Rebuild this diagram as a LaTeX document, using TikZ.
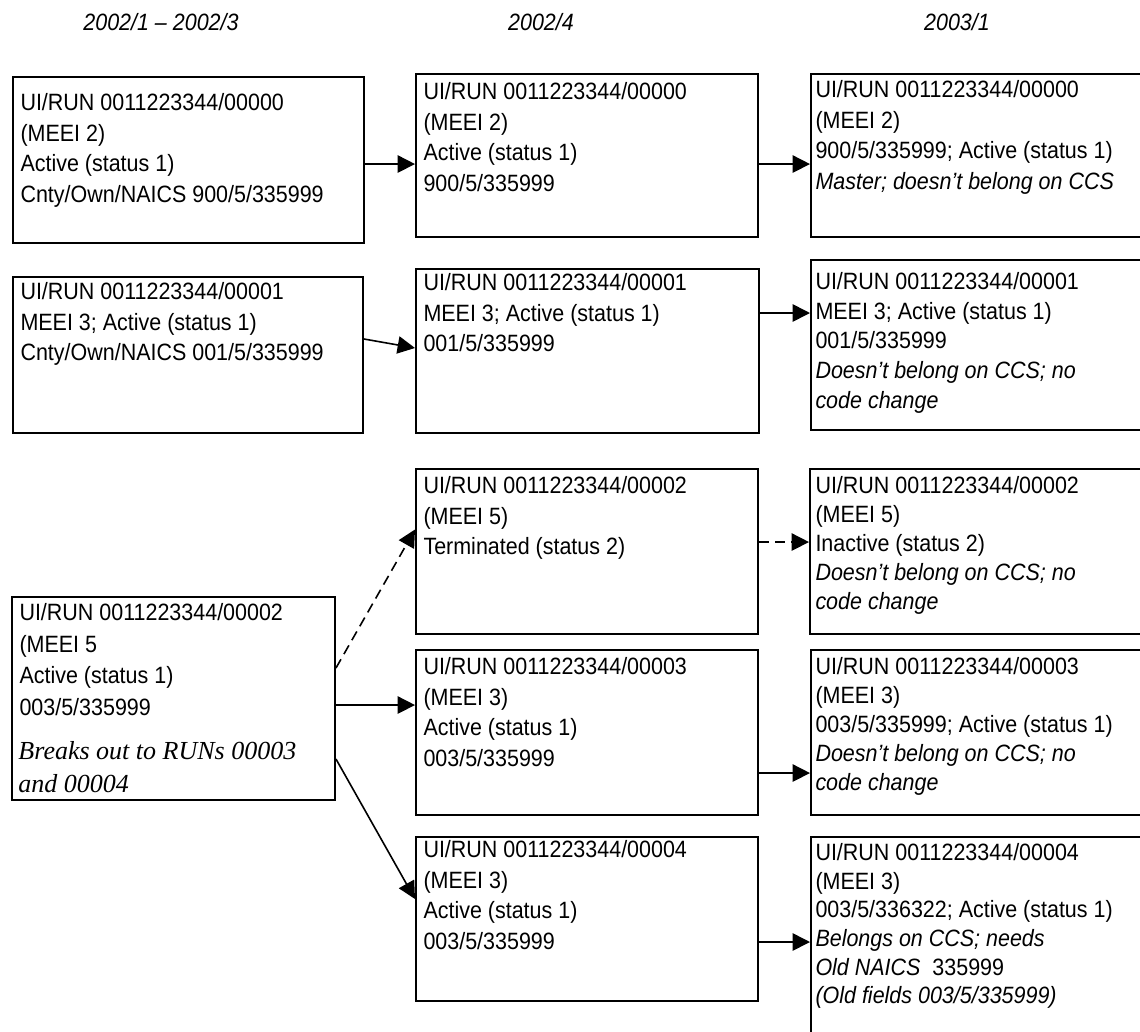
\documentclass[tikz,border=0pt]{standalone}
\usepackage{fontspec}
\setmainfont{Liberation Sans}[FakeStretch=0.91]
\newfontfamily\notefont{Liberation Serif}
\usetikzlibrary{arrows.meta}

\tikzset{every picture/.style={line width=0.75pt}}
\tikzset{
  card/.style 2 args={draw, line width=1.5pt, anchor=north west, inner sep=0pt, minimum width=0.75*#1, minimum height=0.75*#2},
  cardtxt/.style={anchor=north west, inner sep=0pt, align=left, font=\fontsize{17.7}{22.9}\selectfont},
  notetxt/.style={anchor=north west, inner sep=0pt, align=left, font=\notefont\itshape\fontsize{19.5}{24.75}\selectfont},
  head/.style={inner sep=0pt, font=\fontsize{17.7}{19}\selectfont\itshape},
  link/.style={line width=1.2pt, -{Triangle[length=13pt,width=13pt]}},
  dlink/.style={link, dash pattern=on 7.5pt off 4.5pt},
}

\begin{document}
\begin{tikzpicture}[x=0.75pt,y=0.75pt,yscale=-1,xscale=1]
	\useasboundingbox (0,0) rectangle (1140,1032);
	\clip (0,0) rectangle (1140,1032);

	%quarters
	\node [head] (h1) at (161,22) {2002/1 – 2002/3};
	\node [head] (h2) at (541,22) {2002/4};
	\node [head] (h3) at (957,22) {2003/1};

	%first column
	\node [card={351}{166}] (a1) at (12,76) {};
	\node [cardtxt] (a1txt) at (20,93) {UI/RUN 0011223344/00000\\(MEEI 2)\\Active (status 1)\\Cnty/Own/NAICS 900/5/335999};
	\node [card={350}{156}] (a2) at (12,276) {};
	\node [cardtxt] (a2txt) at (20,282) {UI/RUN 0011223344/00001\\MEEI 3; Active (status 1)\\Cnty/Own/NAICS 001/5/335999};
	\node [card={323}{203}] (a3) at (11,596) {};
	\node [cardtxt, font=\fontsize{17.7}{23.7}\selectfont] (a3txt) at (19,603) {UI/RUN 0011223344/00002\\(MEEI 5\\Active (status 1)\\003/5/335999};
	\node [notetxt] (a3note) at (18,741) {Breaks out to RUNs 00003\\and 00004};

	%second column
	\node [card={342}{163}] (b1) at (415,73) {};
	\node [cardtxt] (b1txt) at (423,82) {UI/RUN 0011223344/00000\\(MEEI 2)\\Active (status 1)\\900/5/335999};
	\node [card={343}{164}] (b2) at (415,268) {};
	\node [cardtxt] (b2txt) at (423,273) {UI/RUN 0011223344/00001\\MEEI 3; Active (status 1)\\001/5/335999};
	\node [card={342}{165}] (b3) at (415,468) {};
	\node [cardtxt] (b3txt) at (423,476) {UI/RUN 0011223344/00002\\(MEEI 5)\\Terminated (status 2)};
	\node [card={342}{165}] (b4) at (415,649) {};
	\node [cardtxt] (b4txt) at (423,657) {UI/RUN 0011223344/00003\\(MEEI 3)\\Active (status 1)\\003/5/335999};
	\node [card={342}{164}] (b5) at (415,836) {};
	\node [cardtxt] (b5txt) at (423,840) {UI/RUN 0011223344/00004\\(MEEI 3)\\Active (status 1)\\003/5/335999};

	%third column, cut off at the right
	\node [card={360}{163}] (c1) at (810,73) {};
	\node [cardtxt] (c1txt) at (815,80) {UI/RUN 0011223344/00000\\(MEEI 2)\\900/5/335999; Active (status 1)\\\textit{Master; doesn't belong on CCS}};
	\node [card={360}{170}] (c2) at (810,259) {};
	\node [cardtxt, font=\fontsize{17.7}{22.2}\selectfont] (c2txt) at (815,272) {UI/RUN 0011223344/00001\\MEEI 3; Active (status 1)\\001/5/335999\\\textit{Doesn't belong on CCS; no}\\\textit{code change}};
	\node [card={361}{165}] (c3) at (809,468) {};
	\node [cardtxt, font=\fontsize{17.7}{21.8}\selectfont] (c3txt) at (815,476) {UI/RUN 0011223344/00002\\(MEEI 5)\\Inactive (status 2)\\\textit{Doesn't belong on CCS; no}\\\textit{code change}};
	\node [card={360}{165}] (c4) at (810,649) {};
	\node [cardtxt, font=\fontsize{17.7}{21.8}\selectfont] (c4txt) at (815,657) {UI/RUN 0011223344/00003\\(MEEI 3)\\003/5/335999; Active (status 1)\\\textit{Doesn't belong on CCS; no}\\\textit{code change}};
	\node [card={360}{220}] (c5) at (810,836) {};
	\node [cardtxt, font=\fontsize{17.7}{21.5}\selectfont] (c5txt) at (815,843) {UI/RUN 0011223344/00004\\(MEEI 3)\\003/5/336322; Active (status 1)\\\textit{Belongs on CCS; needs}\\\textit{Old NAICS}~~335999\\\textit{(Old fields 003/5/335999)}};

	%connectors (yshift counts downwards here)
	\draw [link] ([yshift=3pt]a1.east) -- ([yshift=6.4pt]b1.west);
	\draw [link] ([yshift=6.4pt]b1.east) -- ([yshift=6.4pt]c1.west);
	\draw [link] ([yshift=-12pt]a2.east) -- ([yshift=-2.25pt]b2.west);
	\draw [link] ([yshift=-28.5pt]b2.east) -- ([yshift=-24pt]c2.west);
	\draw [dlink] ([yshift=-22.9pt]a3.east) -- ([yshift=-16.5pt]b3.west);
	\draw [dlink] ([yshift=-7.1pt]b3.east) -- ([yshift=-7.1pt]c3.west);
	\draw [link] ([yshift=4.9pt]a3.east) -- ([yshift=-20.6pt]b4.west);
	\draw [link] ([yshift=30.4pt]b4.east) -- ([yshift=30.4pt]c4.west);
	\draw [link] ([yshift=45.4pt]a3.east) -- ([yshift=-15pt]b5.west);
	\draw [link] ([yshift=17.25pt]b5.east) -- ([yshift=-3.75pt]c5.west);

	\end{tikzpicture}
\end{document}
